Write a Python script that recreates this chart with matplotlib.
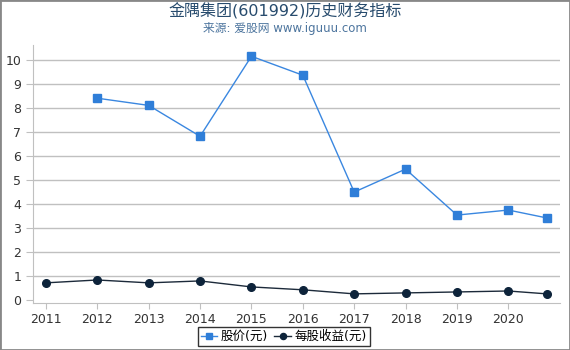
import matplotlib
matplotlib.use('Agg')
import matplotlib.pyplot as plt
from matplotlib.patches import Rectangle

plt.rcParams['font.family'] = ['DejaVu Sans', 'Noto Sans CJK SC']

years = [2011, 2012, 2013, 2014, 2015, 2016, 2017, 2018, 2019, 2020, 2020.75]
price = [None, 8.42, 8.12, 6.83, 10.17, 9.38, 4.50, 5.46, 3.54, 3.75, 3.42]
eps = [0.71, 0.83, 0.71, 0.79, 0.54, 0.42, 0.25, 0.29, 0.33, 0.37, 0.25]
xticks = list(range(2011, 2021))
yticks = list(range(0, 11))

fig = plt.figure(figsize=(5.7, 3.5), dpi=100)
ax = fig.add_axes([0.058, 0.133, 0.924, 0.739])

px = [x for x, p in zip(years, price) if p is not None]
pv = [p for p in price if p is not None]
ax.plot(px, pv, color='#3a87e0', lw=1, marker='s', ms=5.5,
        mfc='#2f7ed8', mec='#2f7ed8', label='股价(元)', zorder=3)
ax.plot(years, eps, color='#1c2a3a', lw=1, marker='o', ms=5.5,
        mfc='#0d233a', mec='#0d233a', label='每股收益(元)', zorder=3)

ax.set_xlim(2010.75, 2021.0)
ax.set_ylim(-0.15, 10.65)
ax.set_xticks(xticks)
ax.set_yticks(yticks)
ax.tick_params(axis='both', labelsize=9, colors='#333333')
ax.tick_params(axis='x', length=4, color='#c0c0c0', pad=3)
ax.tick_params(axis='y', length=5, color='#c0c0c0')
ax.yaxis.grid(True, color='#c0c0c0', lw=1)
ax.get_ygridlines()[0].set_visible(False)
ax.set_axisbelow(True)
for s in ['top', 'right']:
    ax.spines[s].set_visible(False)
for s in ['left', 'bottom']:
    ax.spines[s].set_color('#c0c0c0')

fig.text(0.5, 0.967, '金隅集团(601992)历史财务指标', ha='center', va='center',
         fontsize=11.5, color='#274b6d')
fig.text(0.5, 0.918, '来源: 爱股网 www.iguuu.com', ha='center', va='center',
         fontsize=8.5, color='#4d759e')

leg = fig.legend(loc='lower center', bbox_to_anchor=(0.498, -0.007), ncol=2,
                 frameon=True, fancybox=False, fontsize=9, handlelength=1.3,
                 handletextpad=0.3, columnspacing=0.5, borderpad=0.25,
                 markerscale=0.8)
leg.get_frame().set_edgecolor('black')
leg.get_frame().set_linewidth(1)

fig.patches.append(Rectangle((0, 0), 1, 1, transform=fig.transFigure,
                             fill=False, edgecolor='#888888', lw=2))

fig.savefig('out.png', dpi=100)
